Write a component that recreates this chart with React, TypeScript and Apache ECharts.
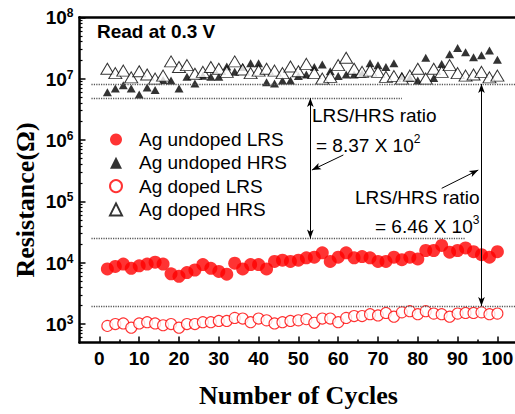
import React, { useEffect, useRef } from 'react';
import * as echarts from 'echarts';

const cycles = [2, 4, 6, 8, 10, 12, 14, 16, 18, 20, 22, 24, 26, 28, 30, 32, 34, 36, 38, 40, 42, 44, 46, 48, 50,
  52, 54, 56, 58, 60, 62, 64, 66, 68, 70, 72, 74, 76, 78, 80, 82, 84, 86, 88, 90, 92, 94, 96, 98, 100];

const undopedLRS = [7.9e3, 8.7e3, 9.5e3, 8.1e3, 8.9e3, 9.5e3, 1.02e4, 9.5e3, 6.6e3, 6.0e3, 6.9e3, 7.6e3, 9.3e3, 8.1e3, 7.2e3, 6.5e3, 9.8e3, 7.9e3, 9.3e3, 9.3e3,
  7.9e3, 1.05e4, 1.1e4, 1.05e4, 1.1e4, 1.2e4, 1.23e4, 1.45e4, 1.05e4, 1.23e4, 1.45e4, 1.2e4, 1.26e4, 1.2e4, 1.05e4, 1.05e4, 1.23e4, 1.12e4, 1.23e4, 1.15e4,
  1.58e4, 1.58e4, 1.91e4, 1.48e4, 1.58e4, 1.74e4, 1.51e4, 1.35e4, 1.23e4, 1.51e4];

const undopedHRS = [6.0e6, 6.9e6, 7.8e6, 6.9e6, 5.5e6, 7.2e6, 6.5e6, 9.5e6, 9.3e6, 6.9e6, 1.07e7, 8.3e6, 1.12e7, 1.07e7, 1.07e7, 1.58e7, 1.29e7, 1.55e7, 1.78e7, 1.78e7,
  8.7e6, 8.3e6, 9.3e6, 9.3e6, 1.1e7, 1.17e7, 1.55e7, 1.7e7, 1.32e7, 1.1e7, 1.17e7, 1.17e7, 1.2e7, 1.78e7, 1.66e7, 1.55e7, 1.78e7, 1.12e7, 1.02e7, 9.3e6,
  2.19e7, 1.02e7, 1.74e7, 2.51e7, 3.16e7, 2.69e7, 2.24e7, 2.4e7, 2.88e7, 2.04e7];

const dopedLRS = [933, 1000, 1023, 871, 1023, 1072, 1023, 955, 1000, 871, 1000, 1000, 1072, 1072, 1122, 1122, 1259, 1230, 1072, 1230,
  1148, 1023, 1072, 1122, 1148, 1202, 1047, 1230, 1230, 1072, 1259, 1349, 1349, 1445, 1380, 1514, 1318, 1549, 1622, 1445,
  1622, 1479, 1445, 1318, 1479, 1514, 1514, 1549, 1445, 1479];

const dopedHRS = [1.45e7, 1.23e7, 1.35e7, 1.05e7, 1.32e7, 1.17e7, 1.0e7, 1.12e7, 1.91e7, 1.55e7, 1.66e7, 1.2e7, 1.29e7, 1.55e7, 1.45e7, 1.29e7, 1.91e7, 1.41e7, 1.23e7, 1.35e7,
  1.45e7, 1.35e7, 1.23e7, 1.58e7, 1.32e7, 1.74e7, 1.23e7, 1.0e7, 1.07e7, 1.66e7, 2.19e7, 1.45e7, 1.29e7, 1.35e7, 1.29e7, 1.07e7, 1.1e7, 1.0e7, 1.12e7, 1.45e7,
  1.0e7, 1.45e7, 1.29e7, 1.66e7, 1.23e7, 1.12e7, 1.17e7, 1.29e7, 1.05e7, 1.12e7];

const seriesNames = ['Ag undoped LRS', 'Ag undoped HRS', 'Ag doped LRS', 'Ag doped HRS'];

const xTickLabels = [0, 10, 20, 30, 40, 50, 60, 70, 80, 90, 100];
const xMinorTicks = [5, 15, 25, 35, 45, 55, 65, 75, 85, 95];
const yDecades = [1e3, 1e4, 1e5, 1e6, 1e7, 1e8];
const yMinorTicks = [600, 700, 800, 900,
  2e3, 3e3, 4e3, 5e3, 6e3, 7e3, 8e3, 9e3,
  2e4, 3e4, 4e4, 5e4, 6e4, 7e4, 8e4, 9e4,
  2e5, 3e5, 4e5, 5e5, 6e5, 7e5, 8e5, 9e5,
  2e6, 3e6, 4e6, 5e6, 6e6, 7e6, 8e6, 9e6,
  2e7, 3e7, 4e7, 5e7, 6e7, 7e7, 8e7, 9e7];

// guide (dotted) lines: y level, x start, x end
const guideY = [8.2e6, 4.83e6, 2.48e4, 1.96e3];
const guideXStart = [-2, -2, -2, -2];
const guideXEnd = [105, 76, 92, 105];
// double arrows
const arrowX = [53, 96];
const arrowFromY = [4.83e6, 8.2e6];
const arrowToY = [2.48e4, 1.96e3];
// pointer arrows [x0, y0, x1, y1]
const pointerA = [61.3, 5.7e5, 53.4, 3.24e5];
const pointerB = [86.0, 1.63e5, 95.2, 3.24e5];

const SANS = '"Liberation Sans", Arial, sans-serif';
const SERIF = '"Liberation Serif", "Times New Roman", serif';

function buildOption(): any {
  const pts = (ys: number[]) => cycles.map((c, i) => [c, ys[i]]);
  const markLines: any[] = [];
  guideY.forEach((y, i) => {
    markLines.push([
      { coord: [guideXStart[i], y], symbol: 'none', lineStyle: { color: '#555', width: 1.3, type: [1.2, 1.2] } },
      { coord: [guideXEnd[i], y], symbol: 'none' },
    ]);
  });
  arrowX.forEach((x, i) => {
    markLines.push([
      { coord: [x, arrowFromY[i]], symbol: 'arrow', symbolSize: [5, 9], lineStyle: { color: '#000', width: 1, type: 'solid' } },
      { coord: [x, arrowToY[i]], symbol: 'arrow', symbolSize: [5, 9] },
    ]);
  });
  [pointerA, pointerB].forEach((p) => {
    markLines.push([
      { coord: [p[0], p[1]], symbol: 'none', lineStyle: { color: '#000', width: 1, type: 'solid' } },
      { coord: [p[2], p[3]], symbol: 'arrow', symbolSize: [5, 9] },
    ]);
  });

  const baseText = { fontFamily: SANS, fontSize: 19, color: '#000' };
  const noAxisBits = { axisLabel: { show: false }, splitLine: { show: false } };

  return {
    animation: false,
    backgroundColor: '#fff',
    grid: {
      left: 79.5, top: 17.3, width: 437.8, height: 325.2,
      outerBoundsMode: 'none', containLabel: false, show: false,
    },
    legend: {
      orient: 'vertical', left: 104, top: 125, itemGap: 4.3, itemWidth: 12, itemHeight: 12,
      data: [
        { name: seriesNames[0], icon: 'circle' },
        { name: seriesNames[1], icon: 'triangle' },
        { name: seriesNames[2], icon: 'circle' },
        { name: seriesNames[3], icon: 'triangle' },
      ],
      formatter: '{t|{name}}',
      textStyle: { rich: { t: { ...baseText, padding: [0, 0, 0, 12] } } },
      selectedMode: false,
    },
    xAxis: [
      {
        type: 'value', min: -5, max: 105, position: 'bottom',
        axisLine: { onZero: false, lineStyle: { color: '#000', width: 2.5 } },
        axisTick: { inside: true, length: 6, customValues: xTickLabels, lineStyle: { color: '#000', width: 1.5 } },
        axisLabel: { customValues: xTickLabels, fontFamily: SANS, fontSize: 19, fontWeight: 'bold', color: '#000', margin: 6 },
        splitLine: { show: false },
        name: 'Number of Cycles', nameLocation: 'middle', nameGap: 40,
        nameTextStyle: { fontFamily: SERIF, fontWeight: 'bold', fontSize: 26, color: '#000' },
      },
      {
        type: 'value', min: -5, max: 105, position: 'bottom', offset: 0,
        axisLine: { show: false, onZero: false },
        axisTick: { inside: true, length: 3, customValues: xMinorTicks, lineStyle: { color: '#000', width: 1.5 } },
        ...noAxisBits,
      },
      {
        type: 'value', min: -5, max: 105, position: 'top', offset: 0,
        axisLine: { show: true, onZero: false, lineStyle: { color: '#000', width: 2.5 } },
        axisTick: { show: false },
        ...noAxisBits,
      },
    ],
    yAxis: [
      {
        type: 'log', logBase: 10, min: 500, max: 1e8, position: 'left',
        axisLine: { onZero: false, lineStyle: { color: '#000', width: 2.5 } },
        axisTick: { inside: true, length: 6, customValues: yDecades, lineStyle: { color: '#000', width: 1.5 } },
        axisLabel: {
          customValues: yDecades, margin: 6,
          formatter: (v: number) => `{b|10}{s|${Math.round(Math.log10(v))}}`,
          rich: {
            b: { fontFamily: SANS, fontSize: 19, fontWeight: 'bold', color: '#000', verticalAlign: 'bottom', lineHeight: 20 },
            s: { fontFamily: SANS, fontSize: 12, fontWeight: 'bold', color: '#000', verticalAlign: 'top', lineHeight: 12 },
          },
        },
        splitLine: { show: false },
        minorTick: { show: false },
      },
      {
        type: 'log', logBase: 10, min: 500, max: 1e8, position: 'left', offset: 0,
        axisLine: { show: false, onZero: false },
        axisTick: { inside: true, length: 3, customValues: yMinorTicks, lineStyle: { color: '#000', width: 1.2 } },
        ...noAxisBits,
      },
    ],
    series: [
      {
        name: seriesNames[0], type: 'scatter', data: pts(undopedLRS), symbol: 'circle', symbolSize: 13,
        itemStyle: { color: '#ff0000' },
        markLine: { silent: true, symbol: 'none', label: { show: false }, data: markLines, animation: false },
      },
      {
        name: seriesNames[1], type: 'scatter', data: pts(undopedHRS), symbol: 'triangle', symbolSize: [9, 8],
        itemStyle: { color: '#000' },
      },
      {
        name: seriesNames[2], type: 'scatter', data: pts(dopedLRS), symbol: 'circle', symbolSize: 11,
        itemStyle: { color: '#fff', borderColor: '#ff0000', borderWidth: 1.1 },
      },
      {
        name: seriesNames[3], type: 'scatter', data: pts(dopedHRS), symbol: 'triangle', symbolSize: [13, 11],
        itemStyle: { color: '#fff', borderColor: '#000', borderWidth: 1 },
      },
    ],
    graphic: [
      { type: 'text', x: 97, y: 31, style: { text: 'Read at 0.3 V', fontFamily: SANS, fontSize: 19, fontWeight: 'bold', fill: '#000', verticalAlign: 'middle' } },
      { type: 'text', x: 312, y: 115, style: { text: 'LRS/HRS ratio', fontFamily: SANS, fontSize: 19, fill: '#000', verticalAlign: 'middle' } },
      {
        type: 'text', x: 316, y: 143.5, style: {
          text: '{b|= 8.37 X 10}{s|2}', verticalAlign: 'middle',
          rich: {
            b: { fontFamily: SANS, fontSize: 19, fill: '#000', verticalAlign: 'bottom', lineHeight: 22 },
            s: { fontFamily: SANS, fontSize: 12, fill: '#000', verticalAlign: 'top', lineHeight: 12 },
          },
        },
      },
      { type: 'text', x: 355, y: 197, style: { text: 'LRS/HRS ratio', fontFamily: SANS, fontSize: 19, fill: '#000', verticalAlign: 'middle' } },
      {
        type: 'text', x: 375, y: 225, style: {
          text: '{b|= 6.46 X 10}{s|3}', verticalAlign: 'middle',
          rich: {
            b: { fontFamily: SANS, fontSize: 19, fill: '#000', verticalAlign: 'bottom', lineHeight: 22 },
            s: { fontFamily: SANS, fontSize: 12, fill: '#000', verticalAlign: 'top', lineHeight: 12 },
          },
        },
      },
      {
        type: 'text', x: 25, y: 200, rotation: Math.PI / 2, style: {
          text: 'Resistance(Ω)', fontFamily: SERIF, fontSize: 26, fontWeight: 'bold', fill: '#000', align: 'center', verticalAlign: 'middle',
        },
      },
    ],
  };
}

export default function App() {
  const ref = useRef<HTMLDivElement>(null);
  useEffect(() => {
    if (!ref.current) return;
    const chart = echarts.init(ref.current, null, { renderer: 'svg' });
    chart.setOption(buildOption());
    return () => chart.dispose();
  }, []);
  return (
    <div style={{ position: 'fixed', left: 0, top: 0, width: 515, height: 414, overflow: 'hidden', background: '#fff' }}>
      <div ref={ref} style={{ width: 524, height: 414 }} />
    </div>
  );
}
